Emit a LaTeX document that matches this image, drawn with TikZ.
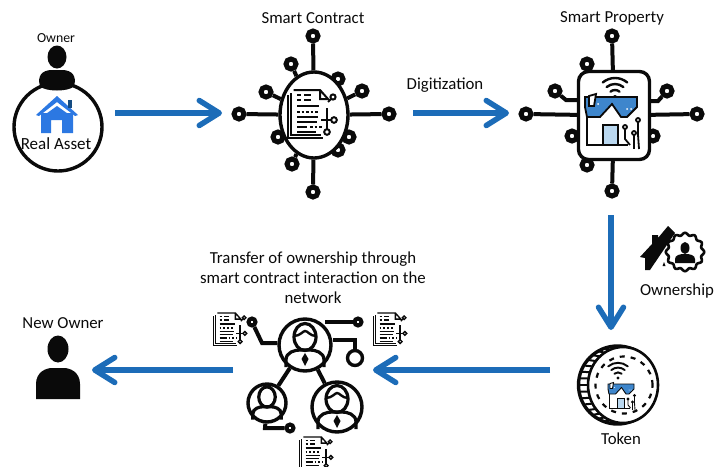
\documentclass[tikz,border=0pt]{standalone}
\usepackage{fontspec}
\setmainfont{Carlito}
\usetikzlibrary{arrows.meta,shapes.geometric,backgrounds}
\definecolor{arrowblue}{RGB}{28,108,184}
\definecolor{houseblue}{RGB}{44,120,226}
\definecolor{bandblue}{RGB}{62,134,204}
\definecolor{doorblue}{RGB}{186,216,240}
\definecolor{inkblack}{RGB}{10,10,10}
\tikzset{
	lbl/.style={font=\fontsize{16.8}{20}\selectfont,text=inkblack,inner sep=0pt,align=center},
	flow/.style={line width=5.5pt,color=arrowblue,-{Straight Barb[length=20pt,width=25pt,round]}},
	pinhole/.style={circle,draw=inkblack,fill=white,line width=5pt,minimum size=10pt,inner sep=0pt},
	leg/.style={line width=4pt,color=inkblack},
	ring/.style={circle,draw=inkblack,fill=white,line width=3.4pt,inner sep=0pt},
}
% silhouette of a person
\newcommand{\personicon}[3]{
	\begin{scope}[shift={(#1,#2)},scale=#3]
		\fill[inkblack] (0,-25) ellipse[x radius=10.5,y radius=13.5];
		\fill[inkblack] (-22,25) -- (-22,10) .. controls (-22,-2) and (-12,-6) .. (-6,-6) -- (6,-6) .. controls (12,-6) and (22,-2) .. (22,10) -- (22,25) -- cycle;
	\end{scope}
}
% line art user inside a circle
\newcommand{\usericon}[4]{
	\begin{scope}[shift={(#1,#2)},scale=#3,line width=3.2pt,color=inkblack]
		\draw (0,-8) ellipse[x radius=11,y radius=13.5];
		\draw (-19,22) -- (-19,15) .. controls (-19,7) and (-10,5) .. (-5,5) -- (5,5) .. controls (10,5) and (19,7) .. (19,15) -- (19,22);
		#4
	\end{scope}
}
\newcommand{\hairtie}{
	\draw[line width=2.4pt] (-11,-9) .. controls (-5,-9) and (-2,-14) .. (0,-14) .. controls (3,-14) and (5,-9) .. (11,-9);
	\fill (0,8) -- (3.5,14) -- (0,21) -- (-3.5,14) -- cycle;
}
% paper with circuit
\newcommand{\docicon}[3]{
	\begin{scope}[shift={(#1,#2)},scale=#3,color=inkblack,line width=#3*2pt]
		\draw (-5,5) -- (-5,48) -- (30,48);
		\draw (-2,3) -- (-2,45) -- (28,45);
		\draw (0.5,0) -- (27,0) -- (35,9) -- (27,9) -- (27,0);
		\draw[line width=#3*2.6pt] (4,5) -- (8,5) (11,5) -- (18,5) (4,10) -- (8,10) (11,10) -- (18,10);
		\foreach \ypos/\xend in {16/26,27/25,32/24,37/14,42/23}
			\draw (4,\ypos) -- (\xend,\ypos);
		\draw[dotted,line width=#3*2.6pt] (4,22) -- (26,22);
		\draw[dotted,line width=#3*2.6pt] (17,37) -- (29,37);
		\draw (35,12) -- (38,9);
		\draw (28,30) -- (38,30);
		\draw (34,18) -- (34,39);
		\draw (40,7) circle[radius=2.6];
		\draw (41,30) circle[radius=2.8];
		\draw (34,42) circle[radius=2.8];
	\end{scope}
}
\newcommand{\wifiicon}[3]{
	\begin{scope}[shift={(#1,#2)},scale=#3,color=inkblack,line width=#3*2.4pt,line cap=round]
		\fill (0,0) circle[radius=2];
		\foreach \rad in {7,13,19}
			\draw (-130:\rad) arc[start angle=-130,end angle=-50,radius=\rad];
	\end{scope}
}
\newcommand{\smarthouse}[3]{
	\begin{scope}[shift={(#1,#2)},scale=#3,color=inkblack,line width=#3*1.8pt]
		\draw[fill=bandblue] (0,0) -- (52,0) -- (52,10) -- (42,20) -- (36,20) -- (27,7) -- (15,20) -- (2,20) -- (0,10) -- cycle;
		\draw[fill=white] (4,-1) -- (11,-3) -- (9,9) -- (4,9) -- cycle;
		\fill[white] (13,7) circle[radius=1] (42,12) circle[radius=1] (46,12) circle[radius=1];
		\draw (2,20) -- (2,48) -- (43,48);
		\draw[fill=doorblue] (18,28) rectangle (33,48);
		\draw (40,31) -- (40,42) -- (45,48);
		\draw (49,38) -- (49,52);
		\draw (53,24) -- (53,38) -- (54,52);
		\draw[fill=white] (40,30) circle[radius=2] (49,36) circle[radius=2] (53,23) circle[radius=2];
	\end{scope}
}
\begin{document}
\begin{tikzpicture}[x=1pt,y=-1pt]
	\useasboundingbox (0,0) rectangle (714,466);
	% real asset
	\node[lbl,font=\fontsize{13.8}{16}\selectfont] (ownerlbl) at (56,38) {Owner};
	\node[ring,minimum size=88pt] (assetring) at (58,127) {};
	\fill[inkblack] (57,57) ellipse[x radius=9.5,y radius=11.5];
	\fill[inkblack] (40,86) .. controls (37,76) and (42,70) .. (52,70) -- (62,70) .. controls (72,70) and (77,76) .. (74,86) .. controls (70,92) and (44,92) .. (40,86) -- cycle;
	\fill[houseblue] (41,113) -- (73,113) -- (73,133) -- (62,133) -- (62,120) -- (51,120) -- (51,133) -- (41,133) -- cycle;
	\fill[houseblue] (36,115) -- (57,96) -- (78,115) -- (75,116) -- (57,102) -- (39,116) -- cycle;
	\fill[houseblue] (57,106) -- (71,116) -- (43,116) -- cycle;
	\fill[arrowblue!70!black] (68,100) rectangle (72,108);
	\node[lbl,font=\fontsize{17}{20}\selectfont] (assetlbl) at (56,144) {Real Asset};
	% smart contract
	\node[lbl] (contractlbl) at (313,18) {Smart Contract};
	\node[ellipse,draw=inkblack,fill=white,line width=3.4pt,minimum width=68pt,minimum height=86pt,inner sep=0pt] (sc) at (314,115) {};
	\begin{pgfonlayer}{background}
		\foreach \pinname/\xpos/\ypos in {a/313/36,b/239/114,c/389/114,d/313/192,e/291/64,f/266/92,g/362/91,h/338/79,i/349/137,j/338/150,k/278/137,l/292/164}{
			\node[pinhole] (sc\pinname) at (\xpos,\ypos) {};
			\draw[leg] (sc\pinname) -- (sc);
		}
	\end{pgfonlayer}
	\docicon{293}{90}{1}
	% first two arrows
	\coordinate (flowas) at (115,113);
	\coordinate (flowae) at (222,113);
	\draw[flow] (flowas) -- (flowae);
	\node[lbl] (digitlbl) at (445,85) {Digitization};
	\coordinate (flowbs) at (413,113);
	\coordinate (flowbe) at (509,113);
	\draw[flow] (flowbs) -- (flowbe);
	% smart property
	\node[lbl] (propertylbl) at (612,18) {Smart Property};
	\node[rectangle,rounded corners=10pt,draw=inkblack,fill=white,line width=3.4pt,minimum width=71pt,minimum height=88pt,inner sep=0pt] (sp) at (614,115.5) {};
	\begin{pgfonlayer}{background}
		\foreach \pinname/\xpos/\ypos in {a/612/36,b/526/114,c/697/114,d/612/191,e/587/64,k/572/136,i/653/136,l/587/165}{
			\node[pinhole] (sp\pinname) at (\xpos,\ypos) {};
			\draw[leg] (sp\pinname) -- (sp);
		}
		\node[pinhole] (spf) at (555,91) {};
		\coordinate (spfb) at (566,100);
		\draw[leg] (spf) -- (spfb) -- (590,100);
		\node[pinhole] (spg) at (667,91) {};
		\coordinate (spgb) at (658,101);
		\draw[leg] (spg) -- (spgb) -- (640,101);
	\end{pgfonlayer}
	\wifiicon{615}{97}{1}
	\smarthouse{585}{97}{1}
	% down to the token
	\coordinate (flowcs) at (611,215);
	\coordinate (flowce) at (611,330);
	\draw[flow] (flowcs) -- (flowce);
	% ownership
	\fill[inkblack] (640,257) -- (652,244) -- (652,235) -- (658,235) -- (658,238) -- (668,226) -- (675,233) -- (650,270) -- (645,270) -- (645,258) -- cycle;
	\fill[inkblack] (664,262) -- (665.5,266) -- (662.5,266) -- cycle;
	\draw[line width=2.6pt,color=inkblack,fill=white] plot[domain=0:360,samples=121,smooth] ({685+(18+1.2*cos(12*\x))*cos(\x)},{252+(18+1.2*cos(12*\x))*sin(\x)}) -- cycle;
	\fill[inkblack] (685,248) ellipse[x radius=4.5,y radius=6];
	\fill[inkblack] (675,263) -- (675,259) .. controls (675,255) and (680,254) .. (685,254) .. controls (690,254) and (695,255) .. (695,259) -- (695,263) -- cycle;
	\node[lbl] (ownershiplbl) at (677,291) {Ownership};
	% token
	\node[ring,minimum size=78pt] (token) at (617.5,385) {};
	\foreach \ang in {100,110,...,260}
		\draw[line width=2pt,color=inkblack] ({617.5+39*cos(\ang)},{385+39*sin(\ang)}) -- ({623+34*cos(\ang)},{385+37*sin(\ang)});
	\node[ellipse,draw=inkblack,fill=white,line width=2.6pt,minimum width=70pt,minimum height=76pt,inner sep=0pt] (tokenface) at (623,385) {};
	\node[circle,draw=inkblack,dash pattern=on 5pt off 6pt,line width=2.2pt,minimum size=57pt,inner sep=0pt] (tokenrim) at (624,385) {};
	\wifiicon{618}{378}{0.8}
	\smarthouse{608}{384}{0.5}
	\node[lbl] (tokenlbl) at (621,439) {Token};
	% back to the new owner
	\coordinate (flowds) at (550,370);
	\coordinate (flowde) at (373,370);
	\draw[flow] (flowds) -- (flowde);
	\coordinate (flowes) at (233,370);
	\coordinate (flowee) at (92,370);
	\draw[flow] (flowes) -- (flowee);
	\node[lbl] (newownerlbl) at (63,323) {New Owner};
	\personicon{58}{374}{1}
	% network
	\node[lbl,font=\fontsize{16.8}{20}\selectfont] (transferlbl) at (313,278) {Transfer of ownership through\\smart contract interaction on the\\network};
	\node[ring,minimum size=52pt] (usera) at (305,345) {};
	\node[ring,minimum size=38pt] (userb) at (267,403) {};
	\node[ring,minimum size=50pt] (userc) at (337,407) {};
	\usericon{305}{345}{1}{\hairtie}
	\usericon{267}{403}{0.75}{}
	\usericon{337}{407}{1}{\hairtie}
	\node[pinhole,line width=4pt,minimum size=7pt] (neta) at (252,322) {};
	\node[pinhole,line width=4pt,minimum size=7pt] (netb) at (358,322) {};
	\node[pinhole,line width=3.4pt,minimum size=15pt] (netc) at (355,358) {};
	\node[pinhole,line width=4pt,minimum size=7pt] (netd) at (290,428) {};
	\draw[leg] (usera) -- (userb);
	\draw[leg] (usera) -- (userc);
	\draw[leg] (neta) -- (262,343) -- (usera.west |- 0,343);
	\draw[leg] (netb) -- (usera.north east |- 0,322);
	\draw[leg] (netc) |- (usera.east |- 0,340);
	\draw[leg] (netd) -- (265,428) -- (userb);
	\docicon{217}{313}{0.68}
	\docicon{377}{313}{0.68}
	\docicon{303}{437}{0.68}
\end{tikzpicture}
\end{document}
